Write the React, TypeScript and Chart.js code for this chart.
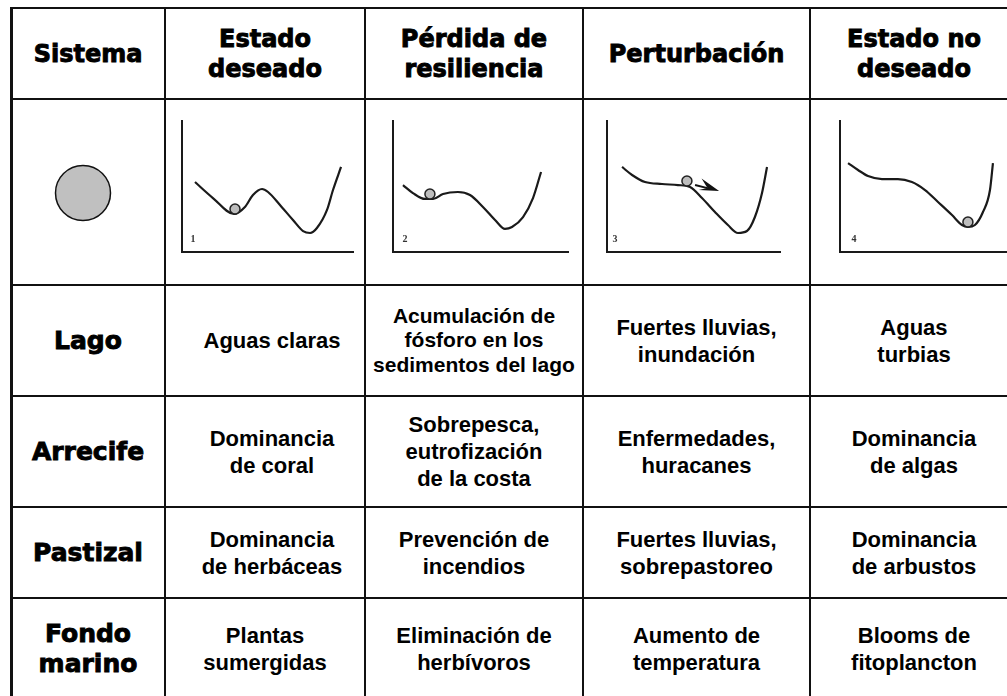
import React, { useEffect, useRef } from 'react';
import { Chart, registerables } from 'chart.js';

Chart.register(...registerables);

// ---------- data ----------
const columnHeaders = ['Sistema', 'Estado\ndeseado', 'Pérdida de\nresiliencia', 'Perturbación', 'Estado no\ndeseado'];
const systemLabels = ['Lago', 'Arrecife', 'Pastizal', 'Fondo\nmarino'];
const desiredState = ['Aguas claras', 'Dominancia\nde coral', 'Dominancia\nde herbáceas', 'Plantas\nsumergidas'];
const resilienceLoss = ['Acumulación de\nfósforo en los\nsedimentos del lago', 'Sobrepesca,\neutrofización\nde la costa', 'Prevención de\nincendios', 'Eliminación de\nherbívoros'];
const disturbance = ['Fuertes lluvias,\ninundación', 'Enfermedades,\nhuracanes', 'Fuertes lluvias,\nsobrepastoreo', 'Aumento de\ntemperatura'];
const undesiredState = ['Aguas\nturbias', 'Dominancia\nde algas', 'Dominancia\nde arbustos', 'Blooms de\nfitoplancton'];

const panelLabels = ['1', '2', '3', '4'];
const panelLabelX = [6.4, 6.9, 4.6, 8];
const panelLabelY = [10.7, 10.7, 10.7, 10.7];

// landscape curves (x: position, y: potential), axes 0..100
const curve1: number[][] = [[7.6, 53.4], [18.1, 41.2], [30.4, 29.0], [36.8, 34.4], [41.5, 43.5], [46.8, 48.1], [50.3, 45.8], [57.3, 35.9], [64.9, 24.4], [70.8, 16.0], [74.9, 14.5], [78.9, 18.3], [84.8, 32.1], [88.3, 47.3], [93.0, 64.9]];
const curve2: number[][] = [[5.7, 51.1], [11.4, 45.0], [18.3, 40.5], [22.9, 40.5], [28.6, 44.3], [37.1, 45.8], [44.0, 43.5], [51.4, 34.4], [58.3, 24.4], [64.0, 17.6], [68.0, 19.1], [74.3, 26.7], [80.0, 41.2], [84.6, 61.1]];
const curve3: number[][] = [[8.7, 64.9], [14.5, 58.8], [22.0, 53.4], [31.8, 51.9], [41.0, 51.1], [48.0, 49.6], [54.9, 41.2], [62.4, 30.5], [69.9, 20.6], [75.7, 14.5], [80.9, 16.0], [85.5, 26.7], [89.6, 45.0], [92.5, 64.9]];
const curve4: number[][] = [[4.6, 67.9], [10.3, 62.6], [16.0, 58.0], [24.0, 55.7], [33.1, 55.7], [41.1, 53.4], [48.6, 47.3], [56.0, 38.2], [64.0, 28.2], [69.7, 20.6], [73.1, 19.1], [77.1, 20.6], [81.7, 30.5], [85.7, 47.3], [87.4, 67.9]];
const curves = [curve1, curve2, curve3, curve4];

// ball positions in each landscape
const ballX = [31.0, 21.1, 46.2, 73.1];
const ballY = [32.8, 44.3, 54.2, 22.9];

// perturbation arrow in panel 3: [start, tip]
const arrow3: number[][] = [[50.9, 51.1], [64.8, 46.6]];

// ---------- layout (pixels) ----------
const colEdges = [11, 165, 365, 583, 810, 1018];
const rowEdges = [8, 99, 285, 396, 507, 598, 700];
const panelBoxes = [
  { x0: 182, x1: 353 },
  { x0: 393, x1: 568 },
  { x0: 607, x1: 780 },
  { x0: 840, x1: 1015 },
];
const panelTop = 121;
const panelBottom = 252;
const PAD = 8;

const headFont: React.CSSProperties = {
  fontFamily: '"DejaVu Sans", sans-serif',
  fontWeight: 700,
  fontSize: 24,
  lineHeight: '30px',
  WebkitTextStroke: '0.9px #000',
  color: '#000',
};
const bodyFont: React.CSSProperties = {
  fontFamily: '"Liberation Sans", Arial, sans-serif',
  fontWeight: 700,
  fontSize: 22,
  lineHeight: '27px',
  color: '#000',
};

function Landscape({ idx }: { idx: number }) {
  const ref = useRef<HTMLCanvasElement>(null);
  const box = panelBoxes[idx];
  const w = box.x1 - box.x0 + PAD * 2;
  const h = panelBottom - panelTop + PAD * 2;
  useEffect(() => {
    if (!ref.current) return;
    const annot = {
      id: 'annot' + idx,
      afterDatasetsDraw(chart: any) {
        const { ctx, scales } = chart;
        const xs = scales.x;
        const ys = scales.y;
        ctx.save();
        ctx.fillStyle = '#333';
        ctx.font = 'bold 10px "Liberation Serif", serif';
        ctx.textAlign = 'center';
        ctx.textBaseline = 'alphabetic';
        ctx.fillText(panelLabels[idx], xs.getPixelForValue(panelLabelX[idx]), ys.getPixelForValue(panelLabelY[idx]) + 4);
        if (idx === 2) {
          const sx = xs.getPixelForValue(arrow3[0][0]);
          const sy = ys.getPixelForValue(arrow3[0][1]);
          const tx = xs.getPixelForValue(arrow3[1][0]);
          const ty = ys.getPixelForValue(arrow3[1][1]);
          const ang = Math.atan2(ty - sy, tx - sx);
          const len = 20;
          const hw = 8;
          const c = Math.cos(ang);
          const s = Math.sin(ang);
          const bx = tx - c * len;
          const by = ty - s * len;
          const nx = tx - c * len * 0.6;
          const ny = ty - s * len * 0.6;
          ctx.strokeStyle = '#111';
          ctx.lineWidth = 2;
          ctx.beginPath();
          ctx.moveTo(sx, sy);
          ctx.lineTo(nx, ny);
          ctx.stroke();
          ctx.fillStyle = '#111';
          ctx.beginPath();
          ctx.moveTo(tx, ty);
          ctx.lineTo(bx + s * hw, by - c * hw);
          ctx.lineTo(nx, ny);
          ctx.lineTo(bx - s * hw * 0.5, by + c * hw * 0.5);
          ctx.closePath();
          ctx.fill();
        }
        ctx.restore();
      },
    };
    const axisOpts = {
      type: 'linear' as const,
      min: 0,
      max: 100,
      grid: { display: false, drawTicks: false },
      ticks: { display: false },
      border: { display: true, color: '#1a1a1a', width: 2 },
    };
    const chart = new Chart(ref.current, {
      type: 'scatter',
      data: {
        datasets: [
          {
            data: curves[idx].map(([x, y]) => ({ x, y })),
            showLine: true,
            borderColor: '#1a1a1a',
            borderWidth: 2.2,
            pointRadius: 0,
            cubicInterpolationMode: 'monotone',
            fill: false,
            order: 2,
          } as any,
          {
            data: [{ x: ballX[idx], y: ballY[idx] }],
            pointRadius: 5,
            backgroundColor: '#bdbdbd',
            borderColor: '#222',
            borderWidth: 1.5,
            order: 1,
          },
        ],
      },
      options: {
        animation: false,
        responsive: false,
        maintainAspectRatio: false,
        events: [],
        layout: { padding: PAD },
        plugins: { legend: { display: false }, tooltip: { enabled: false } },
        scales: { x: axisOpts, y: axisOpts },
      },
      plugins: [annot],
    });
    return () => chart.destroy();
  }, [idx]);
  return (
    <canvas
      ref={ref}
      width={w}
      height={h}
      style={{ position: 'absolute', left: box.x0 - PAD, top: panelTop - PAD, width: w, height: h }}
    />
  );
}

// the system (ball) drawn as a single bubble
const systemBallX = [0];
const systemBallY = [0];
const systemBallR = [27.5];

function SystemBall() {
  const ref = useRef<HTMLCanvasElement>(null);
  useEffect(() => {
    if (!ref.current) return;
    const chart = new Chart(ref.current, {
      type: 'bubble',
      data: {
        datasets: [
          {
            data: systemBallX.map((x, i) => ({ x, y: systemBallY[i], r: systemBallR[i] })),
            backgroundColor: '#c0c0c0',
            borderColor: '#111',
            borderWidth: 1.5,
            clip: false,
          } as any,
        ],
      },
      options: {
        animation: false,
        responsive: false,
        maintainAspectRatio: false,
        events: [],
        layout: { padding: 0 },
        plugins: { legend: { display: false }, tooltip: { enabled: false } },
        scales: {
          x: { type: 'linear', display: false, min: -1, max: 1 },
          y: { type: 'linear', display: false, min: -1, max: 1 },
        },
      },
    });
    return () => chart.destroy();
  }, []);
  return <canvas ref={ref} width={70} height={70} style={{ position: 'absolute', left: 48, top: 158, width: 70, height: 70 }} />;
}

function Cell({ col, row, text, style, padLeft = 0 }: { col: number; row: number; text: string; style: React.CSSProperties; padLeft?: number }) {
  const left = colEdges[col];
  const top = rowEdges[row];
  return (
    <div
      style={{
        position: 'absolute',
        left: left + 1 + padLeft,
        top: top + 1,
        width: colEdges[col + 1] - left - 2 - padLeft,
        height: rowEdges[row + 1] - top - 2,
        display: 'flex',
        alignItems: 'center',
        justifyContent: 'center',
        textAlign: 'center',
        whiteSpace: 'pre-line',
        ...style,
      }}
    >
      {text}
    </div>
  );
}

export default function App() {
  const lines: React.ReactNode[] = [];
  colEdges.forEach((x, i) =>
    lines.push(
      <div key={'v' + i} style={{ position: 'absolute', left: x - (i === 0 ? 1.5 : 1), top: rowEdges[0] - 1, width: i === 0 ? 3 : 2, height: 700, background: '#111' }} />
    )
  );
  rowEdges.forEach((y, i) =>
    lines.push(
      <div key={'h' + i} style={{ position: 'absolute', left: colEdges[0] - 1, top: y - 1, width: 1020, height: 2, background: '#111' }} />
    )
  );
  const bodyCols = [desiredState, resilienceLoss, disturbance, undesiredState];
  return (
    <div style={{ position: 'fixed', left: 0, top: 0, width: 1007, height: 696, overflow: 'hidden', background: '#fff' }}>
      {columnHeaders.map((t, c) => (
        <Cell key={'hd' + c} col={c} row={0} text={t} style={headFont} />
      ))}
      {systemLabels.map((t, r) => (
        <Cell key={'sl' + r} col={0} row={r + 2} text={t} style={{ ...headFont, fontSize: 25 }} />
      ))}
      {bodyCols.map((arr, c) =>
        arr.map((t, r) => (
          <Cell
            key={'b' + c + '-' + r}
            col={c + 1}
            row={r + 2}
            text={t}
            padLeft={c === 0 && r < 3 ? 14 : 0}
            style={c === 1 && r === 0 ? { ...bodyFont, fontSize: 21, lineHeight: '24.5px' } : bodyFont}
          />
        ))
      )}
      <SystemBall />
      {[0, 1, 2, 3].map((i) => (
        <Landscape key={i} idx={i} />
      ))}
      {lines}
    </div>
  );
}
